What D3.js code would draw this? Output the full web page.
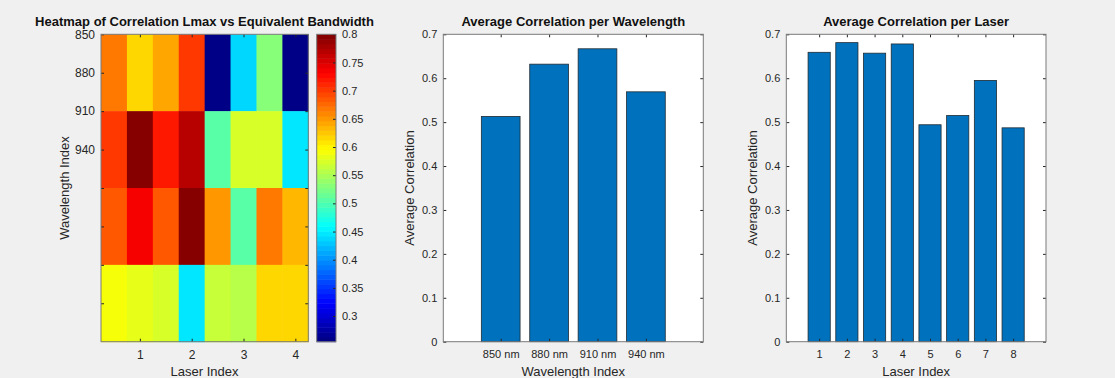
<!DOCTYPE html>
<html>
<head>
<meta charset="utf-8">
<script src="https://cdn.jsdelivr.net/npm/d3@7"></script>
<style>
  html, body { margin: 0; padding: 0; background: #f0f0f0; }
  svg { display: block; font-family: "Liberation Sans", Arial, sans-serif; }
  .tick text { fill: #262626; font-size: 11px; }
  .heat .tick text { font-size: 12px; }
  .heat .cbar .tick text { font-size: 11px; }
  .domain { display: none; }
  .tick line { stroke: #262626; }
</style>
</head>
<body>
<svg id="fig" width="1115" height="378"></svg>
<script>
const wavelengths = ["850", "880", "910", "940"];
const heatRows = [
  [0.672, 0.616, 0.646, 0.698, 0.262, 0.441, 0.531, 0.256],
  [0.700, 0.796, 0.721, 0.766, 0.504, 0.573, 0.570, 0.449],
  [0.687, 0.732, 0.687, 0.800, 0.655, 0.503, 0.666, 0.636],
  [0.595, 0.583, 0.577, 0.449, 0.565, 0.558, 0.618, 0.618]
];
const heatYTicks = [0.5, 1, 1.5, 2, 2.5, 3, 3.5, 4];
const heatYLabels = ["850", "880", "910", "940", "", "", "", ""];
const heatXTicks = [1, 2, 3, 4];
const colorTicks = [0.3, 0.35, 0.4, 0.45, 0.5, 0.55, 0.6, 0.65, 0.7, 0.75, 0.8];

const wlLabels = ["850 nm", "880 nm", "910 nm", "940 nm"];
const wlAvg = [0.513, 0.632, 0.667, 0.569];

const laserLabels = ["1", "2", "3", "4", "5", "6", "7", "8"];
const laserAvg = [0.659, 0.681, 0.657, 0.678, 0.494, 0.515, 0.595, 0.487];

const barYTicks = [0, 0.1, 0.2, 0.3, 0.4, 0.5, 0.6, 0.7];

const svg = d3.select("#fig");
const TOP = 34.3, BOTTOM = 341.7;
const TXT = "#262626";

// MATLAB jet, 64 levels
function jet(t) {
  t = Math.max(0, Math.min(1, t));
  const r = Math.max(0, Math.min(1, Math.min(4 * t - 1.5, -4 * t + 4.5)));
  const g = Math.max(0, Math.min(1, Math.min(4 * t - 0.5, -4 * t + 3.5)));
  const b = Math.max(0, Math.min(1, Math.min(4 * t + 0.5, -4 * t + 2.5)));
  return d3.rgb(r * 255, g * 255, b * 255).toString();
}
const cMin = 0.2545, cMax = 0.80;
const cNorm = d3.scaleLinear().domain([cMin, cMax]).range([0, 1]).clamp(true);
const colorOf = v => jet((Math.min(63, Math.floor(cNorm(v) * 64)) + 0.5) / 64);

function boxAxes(g, x, y, opts) {
  const [x0, x1] = x.range();
  const [y0, y1] = y.range();
  g.append("g").attr("transform", `translate(${x0},0)`)
    .call(d3.axisLeft(y).tickValues(opts.yTicks).tickSize(-3).tickPadding(6)
      .tickFormat((d, i) => opts.yFmt(d, i)));
  g.append("g").attr("transform", `translate(${x1},0)`)
    .call(d3.axisRight(y).tickValues(opts.yTicks).tickSize(-3).tickFormat(""));
  g.append("g").attr("transform", `translate(0,${y0})`)
    .call(d3.axisBottom(x).tickValues(opts.xTicks).tickSize(-3).tickPadding(9)
      .tickFormat((d, i) => opts.xFmt(d, i)));
  g.append("g").attr("transform", `translate(0,${y1})`)
    .call(d3.axisTop(x).tickValues(opts.xTicks).tickSize(-3).tickFormat(""));
  g.append("rect")
    .attr("x", x0).attr("y", y1).attr("width", x1 - x0).attr("height", y0 - y1)
    .attr("fill", "none").attr("stroke", "#7a7a7a").attr("stroke-width", 1);
}

function title(g, cx, text) {
  g.append("text").attr("x", cx).attr("y", 26).attr("text-anchor", "middle")
    .attr("font-size", 13).attr("font-weight", "bold").attr("fill", "#111").text(text);
}
function xLabel(g, cx, text) {
  g.append("text").attr("x", cx).attr("y", 376).attr("text-anchor", "middle")
    .attr("font-size", 13).attr("fill", TXT).text(text);
}
function yLabel(g, x, cy, text) {
  g.append("text").attr("transform", `translate(${x},${cy}) rotate(-90)`)
    .attr("text-anchor", "middle").attr("font-size", 13).attr("fill", TXT).text(text);
}

// ---- Heatmap ----
{
  const g = svg.append("g").attr("class", "heat");
  const x = d3.scaleLinear().domain([0.25, 4.25]).range([101, 308.3]);
  const y = d3.scaleLinear().domain([0.5, 4.5]).range([TOP, BOTTOM]);
  const cells = [];
  heatRows.forEach((row, i) => row.forEach((v, j) => cells.push({ i, j, v })));
  g.selectAll("rect.cell").data(cells).enter().append("rect")
    .attr("class", "cell")
    .attr("x", d => x(0.25 + 0.5 * d.j))
    .attr("y", d => y(d.i + 0.5))
    .attr("width", x(0.75) - x(0.25) + 0.5)
    .attr("height", y(1.5) - y(0.5) + 0.5)
    .attr("fill", d => colorOf(d.v));

  const ax = d3.scaleLinear().domain([0.25, 4.25]).range([101, 308.3]);
  const ay = d3.scaleLinear().domain([4.5, 0.5]).range([BOTTOM, TOP]);
  boxAxes(g, ax, ay, {
    yTicks: heatYTicks, yFmt: (d, i) => heatYLabels[i],
    xTicks: heatXTicks, xFmt: d => d
  });
  title(g, 204.5, "Heatmap of Correlation Lmax vs Equivalent Bandwidth");
  xLabel(g, 204.5, "Laser Index");
  yLabel(g, 69, 188, "Wavelength Index");

  // colorbar
  const cb = g.append("g").attr("class", "cbar");
  const cy = d3.scaleLinear().domain([cMin, cMax]).range([BOTTOM, TOP]);
  const levels = d3.range(64);
  cb.selectAll("rect.lv").data(levels).enter().append("rect")
    .attr("class", "lv")
    .attr("x", 316.7).attr("width", 19.3)
    .attr("y", k => cy(cMin + (k + 1) * (cMax - cMin) / 64))
    .attr("height", (BOTTOM - TOP) / 64 + 0.5)
    .attr("fill", k => jet((k + 0.5) / 64));
  cb.append("g").attr("transform", "translate(336,0)")
    .call(d3.axisRight(cy).tickValues(colorTicks).tickSize(-3).tickPadding(6)
      .tickFormat(d => String(+d.toFixed(2))));
  cb.append("rect").attr("x", 316.7).attr("y", TOP).attr("width", 19.3)
    .attr("height", BOTTOM - TOP).attr("fill", "none").attr("stroke", "#7a7a7a");
}

// ---- Bar charts ----
function barChart(left, right, labels, values, ttl, xl, ylx) {
  const g = svg.append("g");
  const n = values.length;
  const pad = 1.186;
  const x = d3.scaleLinear().domain([1 - pad, n + pad]).range([left, right]);
  const y = d3.scaleLinear().domain([0, 0.7]).range([BOTTOM, TOP]);
  g.append("rect").attr("x", left).attr("y", TOP).attr("width", right - left)
    .attr("height", BOTTOM - TOP).attr("fill", "#fff");
  g.selectAll("rect.bar").data(values).enter().append("rect")
    .attr("class", "bar")
    .attr("x", (d, i) => x(i + 1 - 0.4))
    .attr("width", x(1.4) - x(0.6))
    .attr("y", d => y(d))
    .attr("height", d => y(0) - y(d))
    .attr("fill", "#0072bd").attr("stroke", "#1f2a33").attr("stroke-width", 0.8);
  boxAxes(g, x, y, {
    yTicks: barYTicks, yFmt: d => String(+d.toFixed(1)),
    xTicks: d3.range(1, n + 1), xFmt: (d, i) => labels[i]
  });
  const cx = (left + right) / 2;
  title(g, cx, ttl);
  xLabel(g, cx, xl);
  yLabel(g, ylx, 188, "Average Correlation");
}

barChart(443.3, 703.3, wlLabels, wlAvg, "Average Correlation per Wavelength", "Wavelength Index", 414);
barChart(786.3, 1046, laserLabels, laserAvg, "Average Correlation per Laser", "Laser Index", 757);
</script>
</body>
</html>
